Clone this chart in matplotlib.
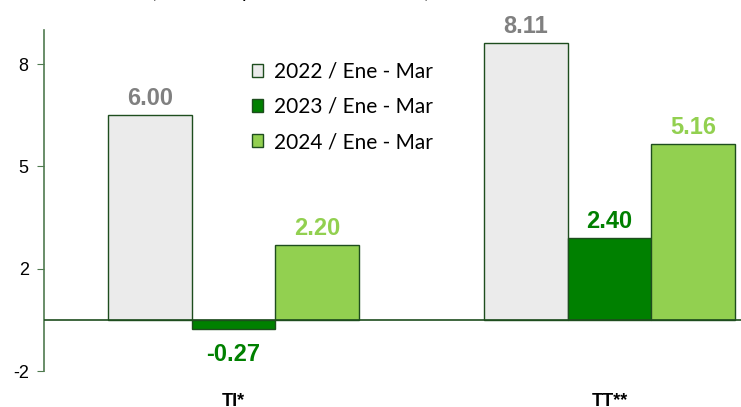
import matplotlib.pyplot as plt
from matplotlib.patches import Patch

# datos
categorias = ['TI*', 'TT**']
series = ['2022 / Ene - Mar', '2023 / Ene - Mar', '2024 / Ene - Mar']
valores_2022 = [6.00, 8.11]
valores_2023 = [-0.27, 2.40]
valores_2024 = [2.20, 5.16]
ticks_y = [-1.5, 1.5, 4.5, 7.5]
etiquetas_y = ['-2', '2', '5', '8']

colores = ['#EBEBEB', '#008000', '#92D050']
colores_texto = ['#808080', '#008000', '#92D050']
borde = '#1E4D1E'
eje = '#4F7A4F'
fuente_num = ['Liberation Sans Narrow', 'Liberation Sans']


def plotar():
    fig = plt.figure(figsize=(7.41, 4.07), dpi=100)
    ax = fig.add_axes([44 / 741, 36 / 407, 697 / 741, 341 / 407])

    ancho = 0.223
    x = list(range(len(categorias)))
    datos = [valores_2022, valores_2023, valores_2024]
    for i, vals in enumerate(datos):
        pos = [xi + (i - 1) * ancho for xi in x]
        ax.bar(pos, vals, width=ancho, color=colores[i], edgecolor=borde, linewidth=1.0, zorder=2)
        for p, v in zip(pos, vals):
            off = 0.15 if v >= 0 else -0.4
            ax.text(p, v + off, f'{v:.2f}', ha='center', va='bottom' if v >= 0 else 'top',
                    fontsize=17, fontweight='bold', color=colores_texto[i],
                    family=fuente_num)

    ax.axhline(0, color=borde, linewidth=1.2, zorder=3)
    ax.set_xlim(-0.504, 1.35)
    ax.set_ylim(-1.5, 8.5)
    ax.set_yticks(ticks_y)
    ax.set_yticklabels(etiquetas_y, fontsize=13, family='Liberation Sans')
    ax.set_xticks([])
    for s in ['top', 'right', 'bottom']:
        ax.spines[s].set_visible(False)
    ax.spines['left'].set_color(eje)
    ax.spines['left'].set_linewidth(1.2)
    ax.tick_params(axis='y', direction='out', length=5, color=eje, pad=6)

    for xi, c in zip(x, categorias):
        ax.text(xi, -0.065, c, transform=ax.get_xaxis_transform(), ha='center', va='top',
                fontsize=13, fontweight='bold', family='Liberation Sans', color='black')

    handles = [Patch(facecolor=colores[i], edgecolor=borde, label=series[i]) for i in range(3)]
    ax.legend(handles=handles, loc='upper left', bbox_to_anchor=(0.271, 0.962), frameon=False,
              prop={'family': 'Lato', 'size': 15}, handlelength=0.55, handleheight=0.55,
              handletextpad=0.5, labelspacing=0.73)

    # titulo cortado en el borde superior, como en el original
    fig.text(0.392, 1.006, '(Variación porcentual interanual)', ha='center', va='baseline',
             fontsize=14, family='Lato', color='black')

    fig.savefig('out.png', dpi=100)


if __name__ == '__main__':
    plotar()
